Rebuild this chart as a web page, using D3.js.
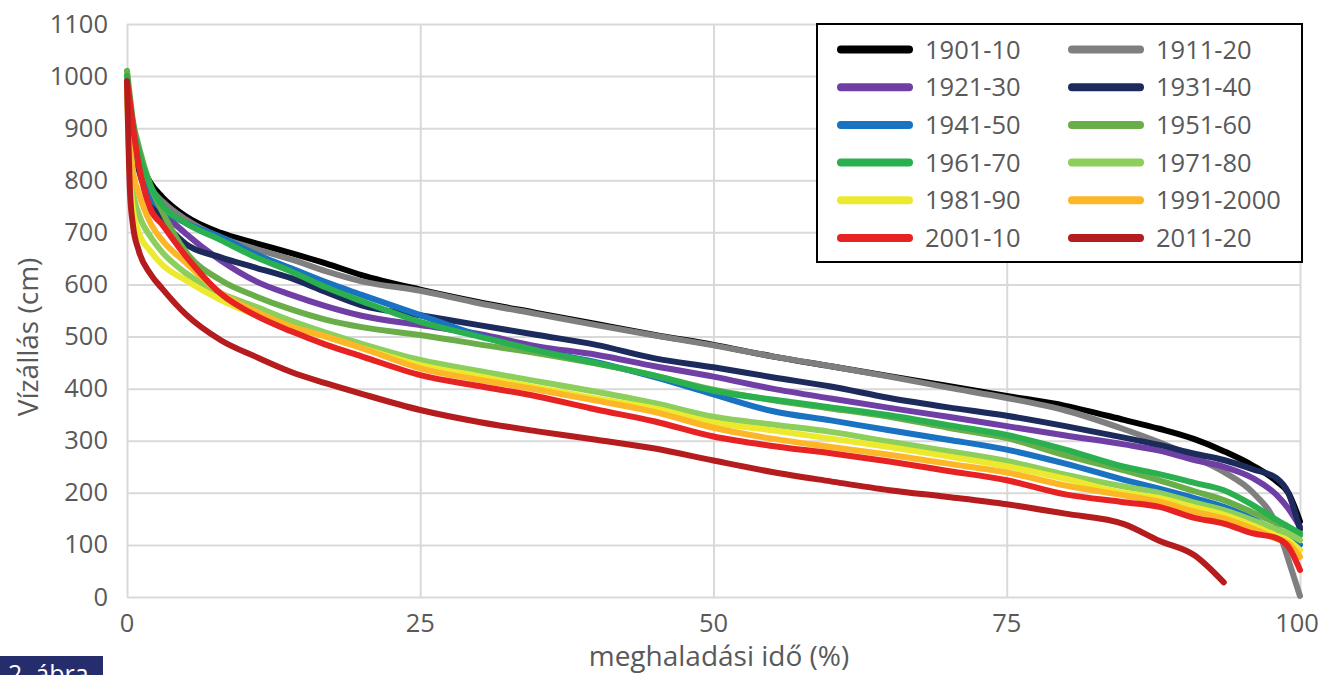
<!DOCTYPE html>
<html>
<head>
<meta charset="utf-8">
<script src="https://cdn.jsdelivr.net/npm/d3@7"></script>
<style>
  body { margin: 0; background: #fff; }
  svg { display: block; font-family: "Open Sans", sans-serif; }
</style>
</head>
<body>
<svg id="chart" width="1320" height="675"></svg>
<script>
// meghaladási idő (%) - shared x positions of the read points
var pct = [0, 0.25, 0.5, 1, 2, 3, 5, 8, 11, 14, 17, 20, 25, 30, 35, 40, 45, 50, 55, 60, 65, 70, 75, 80, 85, 88, 91, 93.5, 96, 98, 99, 100];

var periods = ["1901-10", "1911-20", "1921-30", "1931-40", "1941-50", "1951-60",
               "1961-70", "1971-80", "1981-90", "1991-2000", "2001-10", "2011-20"];

var colors = ["#000000", "#7f7f7f", "#6f3fa6", "#1c2a5c", "#1a72c2", "#6aae4a",
              "#2bb04f", "#8ccf5c", "#ece92e", "#fcb628", "#e62222", "#b51c1e"];

var v1901 = [988, 930, 890, 845, 795, 768, 731, 699, 679, 660, 640, 618, 590, 566, 545, 524, 503, 484, 462, 443, 424, 405, 386, 367, 340, 323, 303, 280, 252, 222, 200, 145];
var v1911 = [985, 925, 880, 835, 785, 760, 725, 690, 668, 648, 625, 606, 588, 564, 543, 522, 502, 483, 462, 443, 423, 402, 382, 358, 322, 297, 268, 240, 200, 138, 72, 2];
var v1921 = [985, 925, 875, 825, 770, 740, 698, 646, 606, 580, 558, 540, 522, 505, 481, 465, 443, 423, 400, 381, 363, 346, 328, 310, 293, 281, 263, 250, 228, 196, 170, 135];
var v1931 = [985, 920, 870, 820, 760, 725, 678, 652, 632, 612, 585, 560, 541, 522, 503, 484, 458, 441, 422, 404, 382, 364, 348, 328, 306, 292, 275, 263, 245, 228, 200, 130];
var v1941 = [985, 930, 880, 830, 768, 745, 718, 691, 658, 631, 604, 580, 541, 502, 473, 451, 422, 389, 357, 339, 320, 302, 283, 256, 225, 208, 190, 173, 150, 126, 116, 100];
var v1951 = [1010, 960, 915, 865, 790, 740, 663, 608, 577, 552, 532, 518, 503, 485, 468, 448, 425, 398, 378, 362, 346, 325, 305, 272, 243, 224, 203, 186, 162, 142, 134, 118];
var v1961 = [1000, 950, 910, 855, 790, 752, 718, 685, 652, 625, 594, 568, 528, 500, 473, 449, 425, 396, 379, 364, 349, 330, 311, 283, 250, 236, 219, 205, 176, 148, 135, 122];
var v1971 = [985, 850, 780, 735, 692, 662, 622, 583, 557, 530, 507, 486, 455, 434, 414, 394, 372, 346, 331, 317, 298, 280, 261, 235, 212, 200, 181, 167, 147, 130, 122, 109];
var v1981 = [975, 810, 745, 700, 664, 638, 608, 570, 541, 518, 499, 478, 445, 424, 402, 381, 362, 335, 320, 304, 288, 270, 251, 227, 200, 190, 172, 158, 137, 118, 109, 90];
var v1991 = [980, 880, 820, 775, 718, 685, 642, 583, 548, 519, 500, 478, 439, 417, 398, 377, 355, 325, 304, 288, 273, 256, 239, 214, 195, 183, 164, 151, 131, 112, 103, 77];
var v2001 = [990, 950, 905, 830, 745, 715, 655, 582, 540, 510, 484, 462, 426, 405, 385, 360, 337, 308, 290, 276, 260, 242, 224, 197, 182, 173, 152, 141, 122, 113, 97, 52];
var v2011 = [990, 780, 715, 665, 620, 592, 543, 493, 461, 432, 410, 390, 359, 336, 318, 302, 285, 262, 240, 222, 205, 192, 178, 160, 140, 108, 80, 28, null, null, null, null];

var seriesValues = [v1901, v1911, v1921, v1931, v1941, v1951, v1961, v1971, v1981, v1991, v2001, v2011];

var xTicks = [0, 25, 50, 75, 100];
var yTicks = d3.range(0, 1101, 100);

var svg = d3.select("#chart");
var textColor = "#595959";

var x = d3.scaleLinear().domain([0, 100]).range([127, 1300]);
var y = d3.scaleLinear().domain([0, 1100]).range([597, 24]);

// grid
svg.append("g")
    .attr("transform", `translate(${x(0)},0)`)
    .call(d3.axisLeft(y).tickValues(yTicks).tickSize(-(x(100) - x(0))).tickFormat(""))
    .call(g => g.select(".domain").remove())
    .selectAll("line").attr("stroke", "#d9d9d9").attr("stroke-width", 2);

svg.append("g")
    .attr("transform", `translate(0,${y(0)})`)
    .call(d3.axisBottom(x).tickValues(xTicks).tickSize(-(y(0) - y(1100))).tickFormat(""))
    .call(g => g.select(".domain").remove())
    .selectAll("line").attr("stroke", "#d9d9d9").attr("stroke-width", 2);

// tick labels
svg.append("g").selectAll("text")
    .data(yTicks)
    .enter().append("text")
    .attr("x", 108)
    .attr("y", d => y(d) + 8.5)
    .attr("text-anchor", "end")
    .attr("font-size", "25.5px")
    .attr("fill", textColor)
    .text(d => d);

svg.append("g").selectAll("text")
    .data(xTicks)
    .enter().append("text")
    .attr("x", d => x(d) - (d == 100 ? 3 : 0))
    .attr("y", 632)
    .attr("text-anchor", "middle")
    .attr("font-size", "25.5px")
    .attr("fill", textColor)
    .text(d => d);

// axis titles
svg.append("text")
    .attr("transform", "translate(38,337) rotate(-90)")
    .attr("text-anchor", "middle")
    .attr("font-size", "28px")
    .attr("fill", textColor)
    .text("Vízállás (cm)");

svg.append("text")
    .attr("x", 719)
    .attr("y", 666)
    .attr("text-anchor", "middle")
    .attr("font-size", "28px")
    .attr("fill", textColor)
    .text("meghaladási idő (%)");

// curves
var line = d3.line()
    .defined(d => d[1] != null)
    .x(d => x(d[0]))
    .y(d => y(d[1]))
    .curve(d3.curveMonotoneX);

seriesValues.forEach(function (vals, i) {
    let pts = pct.map((p, j) => [p, vals[j]]);
    svg.append("path")
        .datum(pts)
        .attr("d", line)
        .attr("fill", "none")
        .attr("stroke", colors[i])
        .attr("stroke-width", 6)
        .attr("stroke-linejoin", "round")
        .attr("stroke-linecap", "round");
});

// legend
var legend = svg.append("g");
legend.append("rect")
    .attr("x", 817).attr("y", 24)
    .attr("width", 485).attr("height", 238)
    .attr("fill", "#fff")
    .attr("stroke", "#000")
    .attr("stroke-width", 2);

var rowY = d3.scaleLinear().domain([0, 5]).range([49.5, 238]);
periods.forEach(function (name, i) {
    let col = i % 2;
    let row = Math.floor(i / 2);
    let x0 = col == 0 ? 841 : 1072;
    legend.append("line")
        .attr("x1", x0).attr("x2", x0 + 68)
        .attr("y1", rowY(row)).attr("y2", rowY(row))
        .attr("stroke", colors[i])
        .attr("stroke-width", 8)
        .attr("stroke-linecap", "round");
    legend.append("text")
        .attr("x", x0 + 84)
        .attr("y", rowY(row) + 9)
        .attr("font-size", "25.5px")
        .attr("fill", textColor)
        .text(name);
});

// figure tag (cut by the bottom edge, as in the source)
svg.append("rect")
    .attr("x", 0).attr("y", 656)
    .attr("width", 103).attr("height", 19)
    .attr("fill", "#262d6c");
svg.append("text")
    .attr("x", 8).attr("y", 683)
    .attr("font-size", "25px")
    .attr("fill", "#fff")
    .text("2. ábra");
</script>
</body>
</html>
